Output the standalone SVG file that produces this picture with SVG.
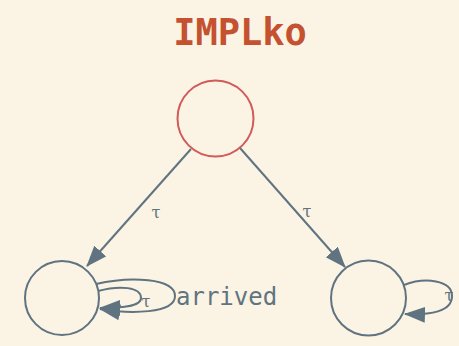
<svg xmlns="http://www.w3.org/2000/svg" width="459" height="346" viewBox="0 0 459 346">
<style>
.bg{fill:#fbf3e4}
.title{font-family:"DejaVu Sans Mono",monospace;font-size:37px;font-weight:bold;fill:#c4512f}
.state{fill:none;stroke:#5f7380;stroke-width:2}
.init{fill:none;stroke:#d25a58;stroke-width:2}
.edge{fill:none;stroke:#5f7380;stroke-width:2}
.lbl{font-family:"DejaVu Serif",serif;font-size:16px;fill:#5f7380}
.big{font-family:"DejaVu Sans Mono",monospace;font-size:24px;fill:#5f7380}
</style>
<defs>
<marker id="ah" markerUnits="userSpaceOnUse" markerWidth="24" markerHeight="18" refX="20" refY="8" orient="auto">
<path d="M0,0 L21,8 L0,16 z" fill="#5f7380"/>
</marker>
</defs>
<rect class="bg" x="0" y="0" width="459" height="346"/>
<text class="title" x="240" y="45" text-anchor="middle">IMPLko</text>
<g id="s0"><circle class="init" cx="215.5" cy="118.5" r="38"/></g>
<g id="s1"><circle class="state" cx="62" cy="298" r="37"/></g>
<g id="s2"><circle class="state" cx="368.5" cy="298" r="37.5"/></g>
<g id="edges">
<path class="edge" d="M191,149 L87,266" marker-end="url(#ah)"/>
<text class="lbl" x="156" y="218" text-anchor="middle">τ</text>
<path class="edge" d="M240,148 L345,267" marker-end="url(#ah)"/>
<text class="lbl" x="307" y="217" text-anchor="middle">τ</text>
<path class="edge" d="M98,291 C120,285 141,287 141,298 C141,307 120,308 100,308" marker-end="url(#ah)"/>
<text class="lbl" x="146" y="307" text-anchor="middle">τ</text>
<path class="edge" d="M96,284 C130,276 175,278 175,296 C175,314 130,314 100,309" marker-end="url(#ah)"/>
<text class="big" x="176" y="305">arrived</text>
<path class="edge" d="M404,285 C425,277 452,280 452,296 C452,312 430,315 405,314" marker-end="url(#ah)"/>
<text class="lbl" x="449" y="301" text-anchor="middle">τ</text>
</g>
</svg>
